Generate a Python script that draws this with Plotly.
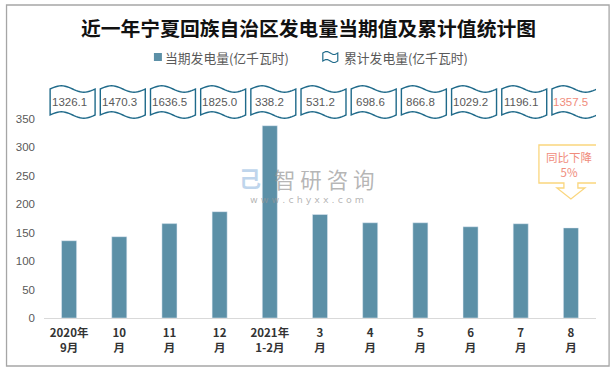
import math
import plotly.graph_objects as go

# ---------------- data ----------------
categories = ["2020年<br>9月", "10<br>月", "11<br>月", "12<br>月", "2021年<br>1-2月",
              "3<br>月", "4<br>月", "5<br>月", "6<br>月", "7<br>月", "8<br>月"]
current_values = [135.9, 143.0, 166.0, 187.0, 338.2, 182.0, 167.5, 167.5, 160.5, 165.8, 158.5]
cumulative_values = [1326.1, 1470.3, 1636.5, 1825.0, 338.2, 531.2, 698.6, 866.8, 1029.2, 1196.1, 1357.5]
cumulative_labels = ["1326.1", "1470.3", "1636.5", "1825.0", "338.2", "531.2",
                     "698.6", "866.8", "1029.2", "1196.1", "1357.5"]
series_names = ["当期发电量(亿千瓦时)", "累计发电量(亿千瓦时)"]
title_text = "近一年宁夏回族自治区发电量当期值及累计值统计图"
callout_text = "同比下降<br>5%"
y_ticks = [0, 50, 100, 150, 200, 250, 300, 350]

# ---------------- layout geometry ----------------
W, H = 615, 371
L, R, T, B = 44, 18.6, 119, 53
PW, PH = W - L - R, H - T - B
BAR_COLOR = "#5C90A7"
FLAG_COLOR = "#1F6A8A"
TEXT_GRAY = "#595959"
SALMON = "#F08C7C"


def px2x(px):
    return (px - L) / PW


def px2y(py):
    return (H - B - py) / PH


x_idx = list(range(len(categories)))

fig = go.Figure()
fig.add_trace(go.Bar(
    x=x_idx, y=current_values, marker_color=BAR_COLOR, width=0.3,
    name=series_names[0], showlegend=False, hoverinfo="y",
))

shapes = []
annotations = []

# outer border of chart
shapes.append(dict(type="rect", xref="paper", yref="paper",
                   x0=px2x(6.5), x1=px2x(609.5), y0=px2y(366), y1=px2y(5),
                   line=dict(color="#A6A6A6", width=1.3), fillcolor="rgba(0,0,0,0)", layer="below"))


def wave_path(cx, half_w, ytop_px, ybot_px, amp_px, n=24):
    pts_top = []
    pts_bot = []
    for k in range(n + 1):
        t = k / n
        x = cx - half_w + 2 * half_w * t
        pts_top.append((x, px2y(ytop_px - amp_px * math.sin(2 * math.pi * t))))
        pts_bot.append((x, px2y(ybot_px - amp_px * math.sin(2 * math.pi * t))))
    pts = pts_top + list(reversed(pts_bot))
    return "M " + " L ".join(f"{x:.4f},{y:.4f}" for x, y in pts) + " Z"


# cumulative value flags
half_w_units = 22.5 / (PW / len(categories))
for i, (v, lab) in enumerate(zip(cumulative_values, cumulative_labels)):
    cx = i + 0.07
    shapes.append(dict(type="path", xref="x", yref="paper",
                       path=wave_path(cx, half_w_units, 89, 115, 3.2),
                       line=dict(color=FLAG_COLOR, width=1.4), fillcolor="white"))
    annotations.append(dict(x=i, y=px2y(101.5), xref="x", yref="paper", text=lab,
                            showarrow=False, xanchor="center", yanchor="middle",
                            font=dict(family="Liberation Sans", size=11.5,
                                      color=SALMON if i == len(categories) - 1 else TEXT_GRAY)))

# title
annotations.append(dict(x=px2x(308.5), y=px2y(27), xref="paper", yref="paper",
                        text=f"<b>{title_text}</b>", showarrow=False,
                        xanchor="center", yanchor="middle",
                        font=dict(family="Noto Sans CJK SC", size=19.8, color="#111111")))

# legend (custom)
shapes.append(dict(type="rect", xref="paper", yref="paper",
                   x0=px2x(154), x1=px2x(162), y0=px2y(61), y1=px2y(53),
                   fillcolor=BAR_COLOR, line=dict(width=0)))
annotations.append(dict(x=px2x(163), y=px2y(57.5), xref="paper", yref="paper",
                        text=series_names[0], showarrow=False, xanchor="left", yanchor="middle",
                        font=dict(family="Noto Sans CJK SC", size=12.8, color=TEXT_GRAY)))
leg_pts_top = []
leg_pts_bot = []
n = 16
for k in range(n + 1):
    t = k / n
    xp = 323 + 15 * t
    leg_pts_top.append((px2x(xp), px2y(53 - 1.5 * math.sin(2 * math.pi * t))))
    leg_pts_bot.append((px2x(xp), px2y(61 - 1.5 * math.sin(2 * math.pi * t))))
leg_path = "M " + " L ".join(f"{a:.4f},{b:.4f}" for a, b in leg_pts_top + leg_pts_bot[::-1]) + " Z"
shapes.append(dict(type="path", xref="paper", yref="paper", path=leg_path,
                   line=dict(color=FLAG_COLOR, width=1.2), fillcolor="white"))
annotations.append(dict(x=px2x(342), y=px2y(57.5), xref="paper", yref="paper",
                        text=series_names[1], showarrow=False, xanchor="left", yanchor="middle",
                        font=dict(family="Noto Sans CJK SC", size=12.8, color=TEXT_GRAY)))

# watermark
annotations.append(dict(x=px2x(250), y=px2y(177), xref="paper", yref="paper",
                        text="<b>己</b>", showarrow=False, xanchor="center", yanchor="middle",
                        font=dict(family="Noto Sans CJK SC", size=22, color="rgba(170,200,230,0.75)")))
annotations.append(dict(x=px2x(324), y=px2y(178), xref="paper", yref="paper",
                        text="智 研 咨 询", showarrow=False, xanchor="center", yanchor="middle",
                        font=dict(family="Noto Sans CJK SC", size=21.5, color="rgba(150,150,150,0.7)")))
annotations.append(dict(x=px2x(307), y=px2y(199), xref="paper", yref="paper",
                        text="w w w . c h y x x . c o m", showarrow=False, xanchor="center",
                        yanchor="middle",
                        font=dict(family="DejaVu Sans", size=9.5, color="rgba(150,150,150,0.7)")))

# callout arrow above last bar
last = len(categories) - 1
u = PW / len(categories)  # px per category


def cx_(dpx):
    return last + dpx / u


callout_pts = [(-32, 145), (30, 145), (30, 183), (7, 183), (7, 188), (14, 188), (0, 199),
               (-14, 188), (-7, 188), (-7, 183), (-32, 183)]
cpath = "M " + " L ".join(f"{cx_(a):.4f},{px2y(b):.4f}" for a, b in callout_pts) + " Z"
shapes.append(dict(type="path", xref="x", yref="paper", path=cpath,
                   line=dict(color="#FAD67E", width=1.3), fillcolor="white"))
annotations.append(dict(x=cx_(-1), y=px2y(164), xref="x", yref="paper", text=callout_text,
                        showarrow=False, xanchor="center", yanchor="middle",
                        font=dict(family="Noto Sans CJK SC", size=11.5, color=SALMON)))

fig.update_layout(
    width=W, height=H,
    margin=dict(l=L, r=R, t=T, b=B, pad=0),
    paper_bgcolor="white", plot_bgcolor="white",
    showlegend=False,
    shapes=shapes, annotations=annotations,
    xaxis=dict(range=[-0.5, len(categories) - 0.5], tickmode="array", tickvals=x_idx,
               ticktext=[f"<b>{c}</b>" for c in categories], showgrid=False,
               showline=True, linecolor="#D9D9D9", linewidth=1, ticks="", zeroline=False,
               tickfont=dict(family="Noto Sans CJK SC", size=11.5, color="#333333"),
               ticklabelstandoff=4, fixedrange=True),
    yaxis=dict(range=[0, 350], tickmode="array", tickvals=y_ticks, showgrid=False,
               showline=False, zeroline=False, ticks="",
               tickfont=dict(family="Liberation Sans", size=11.5, color=TEXT_GRAY),
               ticklabelstandoff=8, fixedrange=True),
    bargap=0.7,
)

fig.write_html("out.html", include_plotlyjs=True, config={"displayModeBar": False},
               post_script="document.body.style.margin='0px';document.body.style.overflow='hidden';")
